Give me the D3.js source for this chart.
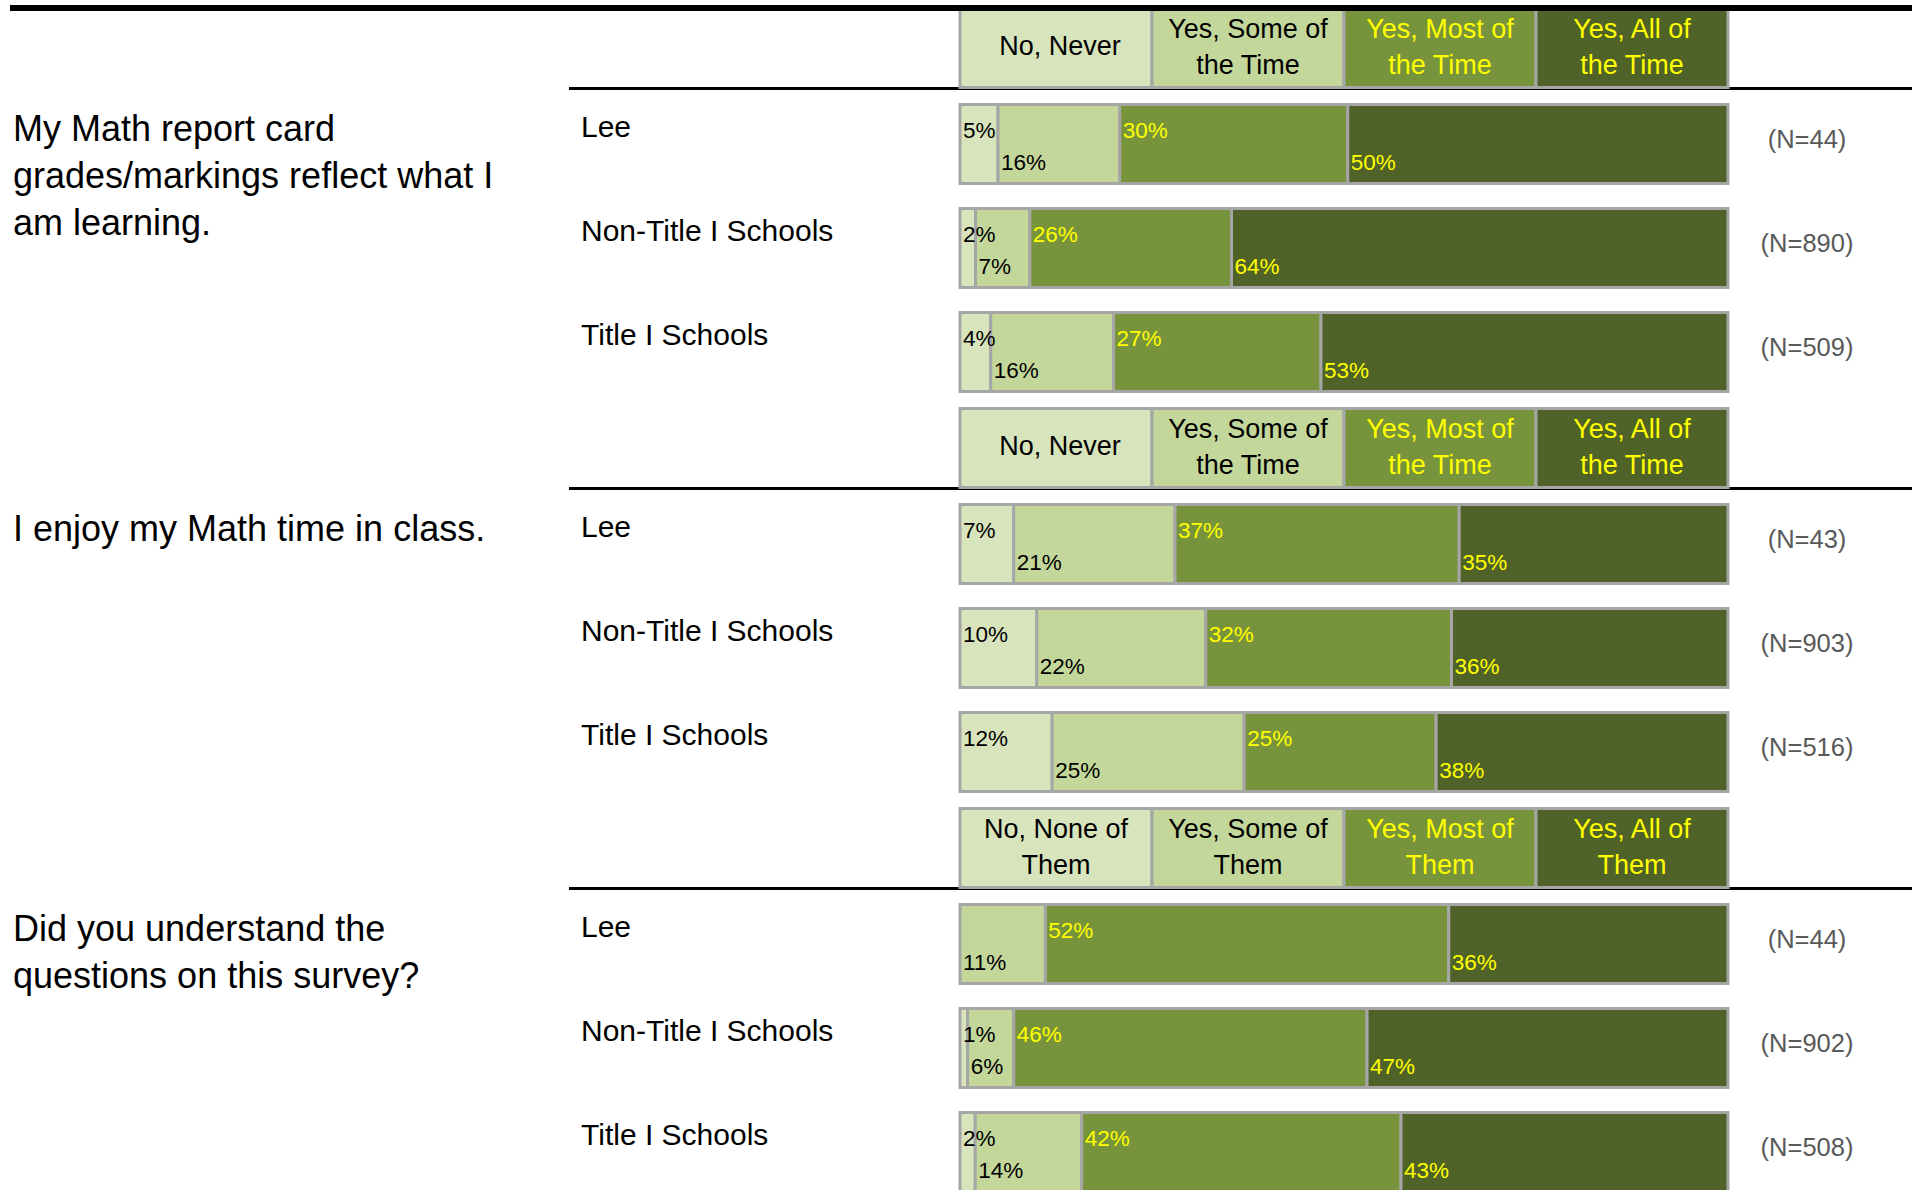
<!DOCTYPE html>
<html>
<head>
<meta charset="utf-8">
<script src="https://cdn.jsdelivr.net/npm/d3@7"></script>
<style>
  html, body { margin: 0; padding: 0; background: #fff; }
  svg { display: block; font-family: "Liberation Sans", Arial, sans-serif; }
</style>
</head>
<body>
<svg id="chart" width="1916" height="1190"></svg>
<script>
// ---------- data ----------
const groups = ["Lee", "Non-Title I Schools", "Title I Schools"];

const questions = [
  ["My Math report card", "grades/markings reflect what I", "am learning."],
  ["I enjoy my Math time in class."],
  ["Did you understand the", "questions on this survey?"]
];

const headerTime = [["No, Never"], ["Yes, Some of", "the Time"], ["Yes, Most of", "the Time"], ["Yes, All of", "the Time"]];
const headerThem = [["No, None of", "Them"], ["Yes, Some of", "Them"], ["Yes, Most of", "Them"], ["Yes, All of", "Them"]];
const headers = [headerTime, headerTime, headerThem];

const q1Values = [[5, 16, 30, 50], [2, 7, 26, 64], [4, 16, 27, 53]];
const q2Values = [[7, 21, 37, 35], [10, 22, 32, 36], [12, 25, 25, 38]];
const q3Values = [[0, 11, 52, 36], [1, 6, 46, 47], [2, 14, 42, 43]];
const values = [q1Values, q2Values, q3Values];

const q1N = ["(N=44)", "(N=890)", "(N=509)"];
const q2N = ["(N=43)", "(N=903)", "(N=516)"];
const q3N = ["(N=44)", "(N=902)", "(N=508)"];
const nLabels = [q1N, q2N, q3N];

const segColors = ["#d8e4bc", "#c4d79b", "#77933c", "#4f6228"];
const textColors = ["#000000", "#000000", "#ffff00", "#ffff00"];

// ---------- layout ----------
const svg = d3.select("#chart");
const barLeft = 960, barRight = 1728;
const border = "#a6a6a6";

const sectionY = d3.scaleBand().domain([0, 1, 2]).range([0, 1200]);       // 400 per section
const rowY = d3.scaleLinear().domain([0, 1]).range([103, 207]);            // 104 per row
const headerTop = 7, boxH = 82;
const headerX = d3.scaleBand().domain([0, 1, 2, 3]).range([barLeft, barRight]);

questions.forEach((q, s) => {
  const g = svg.append("g").attr("transform", `translate(0,${sectionY(s)})`);

  // separator line under header
  g.append("line")
    .attr("x1", 569).attr("x2", 1912)
    .attr("y1", headerTop + boxH - 0.5).attr("y2", headerTop + boxH - 0.5)
    .attr("stroke", "#000").attr("stroke-width", 3);

  // header cells
  const hc = g.selectAll("g.hcell").data(headers[s]).enter().append("g").attr("class", "hcell");
  hc.append("rect")
    .attr("x", (d, i) => headerX(i))
    .attr("y", headerTop + 1.5)
    .attr("width", headerX.bandwidth())
    .attr("height", boxH - 3)
    .attr("fill", (d, i) => segColors[i])
    .attr("stroke", border).attr("stroke-width", 3);
  hc.each(function (lines, i) {
    const t = d3.select(this).append("text")
      .attr("text-anchor", "middle")
      .attr("font-size", 27)
      .attr("fill", textColors[i]);
    const cx = headerX(i) + headerX.bandwidth() / 2;
    if (lines.length === 1) {
      t.append("tspan").attr("x", cx + 4).attr("y", headerTop + 48).text(lines[0]);
    } else {
      lines.forEach((ln, k) => {
        t.append("tspan").attr("x", cx).attr("y", headerTop + 31 + k * 36).text(ln);
      });
    }
  });

  // question text
  const qt = g.append("text").attr("font-size", 36).attr("fill", "#000");
  q.forEach((ln, k) => {
    qt.append("tspan").attr("x", 13).attr("y", 141 + k * 47).text(ln);
  });

  // rows
  values[s].forEach((vals, r) => {
    const top = rowY(r);
    const total = d3.sum(vals);
    const x = d3.scaleLinear().domain([0, total]).range([barLeft, barRight]);
    let acc = 0;
    const segs = vals.map((v, i) => { const o = { v, i, x0: acc, x1: acc + v }; acc += v; return o; });

    // group label
    g.append("text").attr("x", 581).attr("y", top + 34)
      .attr("font-size", 30).attr("fill", "#000").text(groups[r]);

    const seg = g.selectAll(null).data(segs.filter(d => d.v > 0)).enter();
    seg.append("rect")
      .attr("x", d => x(d.x0))
      .attr("y", top + 1.5)
      .attr("width", d => x(d.x1) - x(d.x0))
      .attr("height", boxH - 3)
      .attr("fill", d => segColors[d.i])
      .attr("stroke", border).attr("stroke-width", 3);
    seg.append("text")
      .attr("x", d => x(d.x0) + 3)
      .attr("y", d => top + (d.i % 2 === 0 ? 35 : 67))
      .attr("font-size", 22.5)
      .attr("fill", d => textColors[d.i])
      .text(d => d.v + "%");

    // N label
    g.append("text").attr("x", 1807).attr("y", top + 45)
      .attr("text-anchor", "middle").attr("font-size", 25.5)
      .attr("fill", "#595959").text(nLabels[s][r]);
  });
});

// top thick rule
svg.append("rect").attr("x", 10).attr("y", 5).attr("width", 1902).attr("height", 6).attr("fill", "#000");
</script>
</body>
</html>
